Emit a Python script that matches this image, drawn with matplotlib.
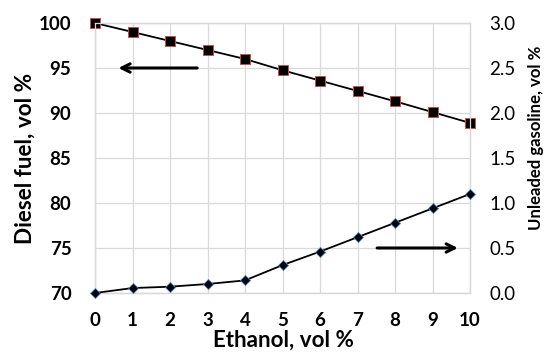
import matplotlib
matplotlib.use("Agg")
import matplotlib.pyplot as plt

ethanol = [0, 1, 2, 3, 4, 5, 6, 7, 8, 9, 10]
diesel = [100, 99.0, 98.0, 97.0, 96.0, 94.75, 93.6, 92.45, 91.3, 90.1, 88.9]
gasoline = [0.0, 0.055, 0.07, 0.10, 0.14, 0.31, 0.46, 0.62, 0.78, 0.94, 1.10]
left_ticks = [70, 75, 80, 85, 90, 95, 100]
right_ticks = [0.0, 0.5, 1.0, 1.5, 2.0, 2.5, 3.0]

plt.rcParams['font.family'] = ['Lato', 'DejaVu Sans']

W, H = 544, 362
fig = plt.figure(figsize=(W / 100, H / 100), dpi=100)
ax = fig.add_axes([95 / W, 1 - 293 / H, (470 - 95) / W, (293 - 23) / H])
ax2 = ax.twinx()

ax.set_xlim(0, 10)
ax.set_ylim(70, 100)
ax2.set_ylim(0, 3.0)
ax.set_xticks(ethanol)
ax.set_yticks(left_ticks)
ax2.set_yticks(right_ticks)
ax2.set_yticklabels([f"{v:.1f}" for v in right_ticks])

ax.grid(True, color='#d9d9d9', linewidth=0.9)
ax.set_axisbelow(True)
for a in (ax, ax2):
    for s in a.spines.values():
        s.set_color('#d9d9d9')
        s.set_linewidth(0.9)
    a.tick_params(length=0)

ax.plot(ethanol, diesel, color='black', linewidth=1.3, marker='s', markersize=7,
        markerfacecolor='black', markeredgecolor='#c0504d', markeredgewidth=0.7,
        zorder=3, clip_on=False)
ax2.plot(ethanol, gasoline, color='black', linewidth=1.3, marker='D', markersize=5.5,
         markerfacecolor='black', markeredgecolor='#4f81bd', markeredgewidth=0.6,
         zorder=3, clip_on=False)

for lab in ax.get_xticklabels() + ax.get_yticklabels():
    lab.set_fontweight('bold')
    lab.set_fontsize(13.5)
for lab in ax2.get_yticklabels():
    lab.set_fontsize(13.5)
ax.tick_params(axis='x', pad=14)
ax.tick_params(axis='y', pad=17)
ax2.tick_params(axis='y', pad=14)

t_eth = fig.text(283 / W, 1 - 347 / H, 'Ethanol, vol %', fontsize=14, fontweight='bold',
                 ha='center', va='baseline')
t_die = fig.text(32 / W, 1 - 158.5 / H, 'Diesel fuel, vol %', fontsize=14, fontweight='bold',
                 ha='center', va='baseline', rotation=90, rotation_mode='anchor')
t_gas = fig.text(540.5 / W, 1 - 137.5 / H, 'Unleaded gasoline, vol %', fontsize=12,
                 fontweight='bold', ha='center', va='baseline', rotation=90,
                 rotation_mode='anchor')

renderer = fig.canvas.get_renderer()
for t, target, vertical in ((t_eth, 142, False), (t_die, 172, True), (t_gas, 185, True)):
    bb = t.get_window_extent(renderer)
    cur = bb.height if vertical else bb.width
    t.set_fontsize(t.get_fontsize() * target / cur)

ax.annotate('', xy=(0.55, 95), xytext=(2.8, 95),
            arrowprops=dict(arrowstyle='->,head_length=0.6,head_width=0.3', color='black', lw=2.2))
ax2.annotate('', xy=(9.75, 0.5), xytext=(7.45, 0.5),
             arrowprops=dict(arrowstyle='->,head_length=0.6,head_width=0.3', color='black', lw=2.2))

fig.savefig('out.png', dpi=100)
